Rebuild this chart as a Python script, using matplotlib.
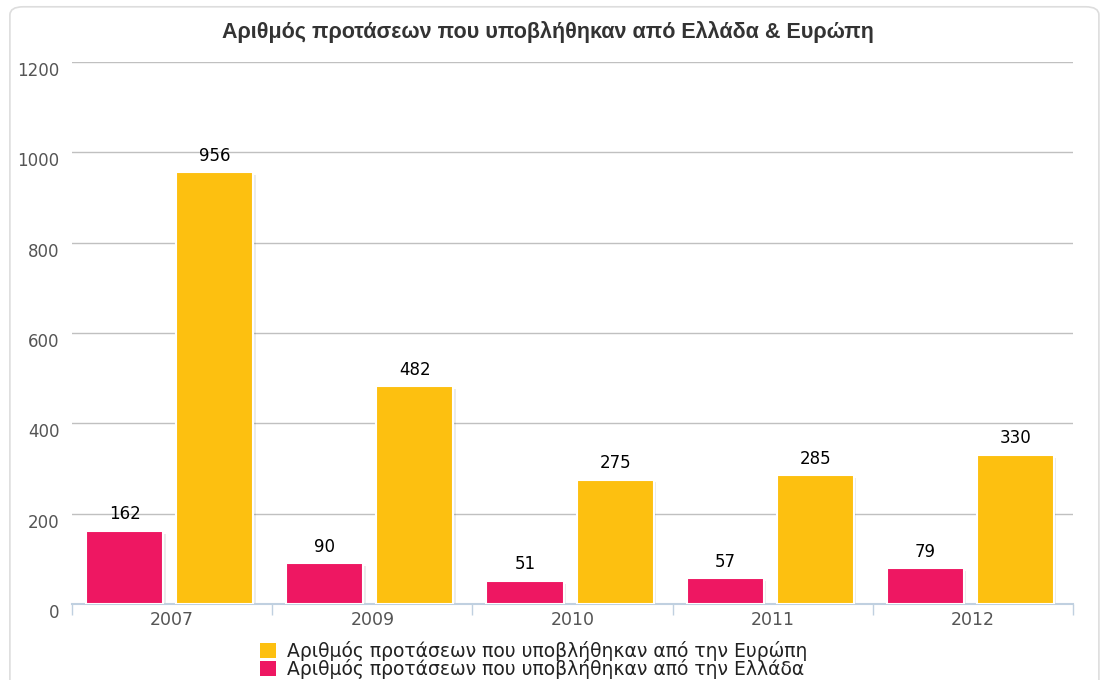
import numpy as np
import matplotlib.pyplot as plt
from matplotlib.patches import FancyBboxPatch, Rectangle

years = ['2007', '2009', '2010', '2011', '2012']
greece = [162, 90, 51, 57, 79]
europe = [956, 482, 275, 285, 330]

title = 'Αριθμός προτάσεων που υποβλήθηκαν από Ελλάδα & Ευρώπη'
label_eu = 'Αριθμός προτάσεων που υποβλήθηκαν από την Ευρώπη'
label_gr = 'Αριθμός προτάσεων που υποβλήθηκαν από την Ελλάδα'

c_gr = '#ee1762'
c_eu = '#fdc010'

fig = plt.figure(figsize=(11, 6.8), dpi=100)
fig.patches.append(FancyBboxPatch((0.009, -0.05), 0.99, 1.04, boxstyle='round,pad=0,rounding_size=0.012',
                                  transform=fig.transFigure, fc='white', ec='#dddddd', lw=1.2, zorder=-1))
ax = fig.add_axes([0.0655, 0.1118, 0.91, 0.797])
ax.patch.set_alpha(0)

x = np.arange(len(years))
w = 0.385
for xs, vals, col in [(x - 0.2375, greece, c_gr), (x + 0.2125, europe, c_eu)]:
    # soft shadow
    for xi, v in zip(xs, vals):
        ax.add_patch(Rectangle((xi - w / 2 + 0.012, 0), w, v - 6, fc='#000000', alpha=0.08, lw=0, zorder=2))
    bars = ax.bar(xs, vals, w, color=col, edgecolor='white', linewidth=1.5, zorder=3)
    for b, v in zip(bars, vals):
        ax.text(b.get_x() + b.get_width() / 2, v + 17, str(v), ha='center', va='bottom',
                fontsize=12, color='black', zorder=4)

ax.set_xlim(-0.5, len(years) - 0.5)
ax.set_ylim(0, 1200)
ax.set_yticks(range(0, 1201, 200))
ax.grid(axis='y', color='#c0c0c0', lw=1, zorder=0)
ax.set_axisbelow(True)
for s in ['top', 'right', 'left']:
    ax.spines[s].set_visible(False)
ax.spines['bottom'].set_color('#c0d0e0')
ax.spines['bottom'].set_linewidth(1.5)
ax.set_xticks(x)
ax.set_xticklabels(years, fontsize=12.5, color='#555555')
ax.set_xticks(np.arange(-0.5, len(years), 1), minor=True)
ax.tick_params(axis='x', which='major', length=0, pad=5)
ax.tick_params(axis='x', which='minor', length=8, color='#c0d0e0', width=1)
ax.tick_params(axis='y', length=0, labelsize=12, labelcolor='#555555', pad=9)
for t in ax.get_yticklabels():
    t.set_verticalalignment('top')

fig.text(0.498, 0.953, title, ha='center', va='center', fontsize=15.5, fontweight='bold',
         family='Liberation Sans', color='#333333')

h_eu = Rectangle((0, 0), 1, 1, fc=c_eu, ec='none')
h_gr = Rectangle((0, 0), 1, 1, fc=c_gr, ec='none')
fig.legend([h_eu, h_gr], [label_eu, label_gr], loc='center', bbox_to_anchor=(0.485, 0.03),
           frameon=False, fontsize=13.5, handlelength=0.85, handleheight=0.85, handletextpad=0.6,
           labelspacing=-0.1, borderpad=0, labelcolor='#222222')

fig.savefig('out.png', dpi=100)
